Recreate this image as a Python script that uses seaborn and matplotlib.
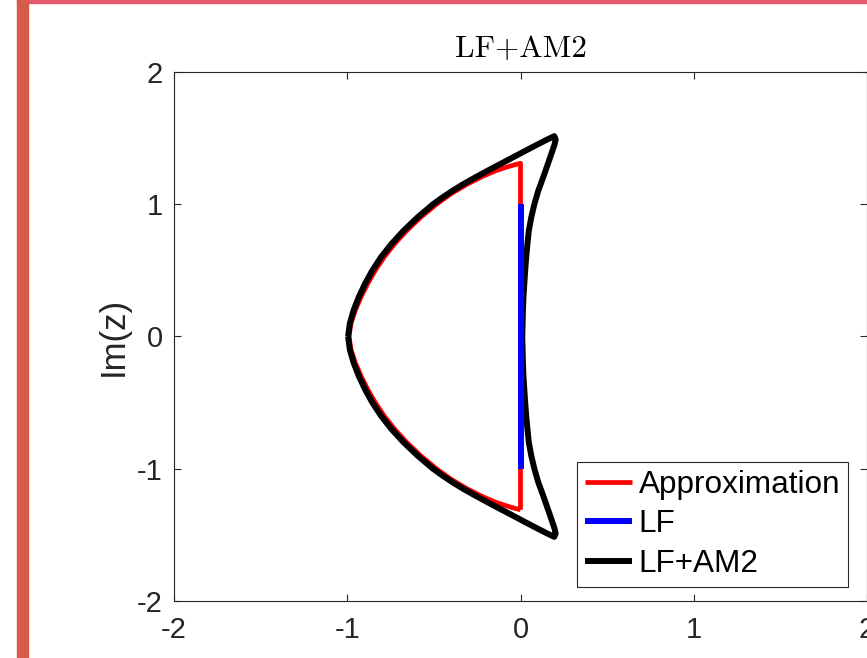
import numpy as np
import pandas as pd
import seaborn as sns
import matplotlib.pyplot as plt
from matplotlib.patches import Rectangle

# Curvas (Re(z), Im(z))
approx_x = [0.0, 0.0, -0.03, -0.07, -0.14, -0.22, -0.31, -0.40, -0.485, -0.577, -0.657,
            -0.727, -0.787, -0.838, -0.882, -0.92, -0.953, -0.978, -0.99,
            -0.978, -0.953, -0.92, -0.882, -0.838, -0.787, -0.727, -0.657, -0.577,
            -0.485, -0.40, -0.31, -0.22, -0.14, -0.07, -0.03, 0.0]
approx_y = [-1.31, 1.31, 1.30, 1.285, 1.255, 1.21, 1.15, 1.08, 1.00, 0.90, 0.80,
            0.70, 0.60, 0.50, 0.40, 0.30, 0.20, 0.10, 0.0,
            -0.10, -0.20, -0.30, -0.40, -0.50, -0.60, -0.70, -0.80, -0.90,
            -1.00, -1.08, -1.15, -1.21, -1.255, -1.285, -1.30, -1.31]

lf_x = [0.0, 0.0]
lf_y = [-1.0, 1.0]

lfam2_x = [-0.995, -0.985, -0.963, -0.933, -0.897, -0.855, -0.805, -0.745, -0.675, -0.595,
           -0.505, -0.452, -0.395, -0.333, -0.265, -0.195, -0.123, -0.05, 0.022, 0.095,
           0.155, 0.195,
           0.203, 0.196, 0.17, 0.13, 0.102, 0.08, 0.062, 0.048, 0.04, 0.033, 0.027,
           0.022, 0.017, 0.014, 0.012, 0.01,
           0.012, 0.014, 0.017, 0.022, 0.027, 0.033, 0.04, 0.048, 0.062, 0.08, 0.102,
           0.13, 0.17, 0.196, 0.203,
           0.195, 0.155, 0.095, 0.022, -0.05, -0.123, -0.195, -0.265, -0.333, -0.395,
           -0.452, -0.505, -0.595, -0.675, -0.745, -0.805, -0.855, -0.897, -0.933,
           -0.963, -0.985, -0.995]
lfam2_y = [0.0, 0.10, 0.20, 0.30, 0.40, 0.50, 0.60, 0.70, 0.80, 0.90,
           1.00, 1.05, 1.10, 1.15, 1.20, 1.25, 1.30, 1.35, 1.40, 1.45,
           1.49, 1.515,
           1.49, 1.45, 1.35, 1.20, 1.10, 1.00, 0.90, 0.80, 0.70, 0.60, 0.50,
           0.40, 0.30, 0.20, 0.10, 0.0,
           -0.10, -0.20, -0.30, -0.40, -0.50, -0.60, -0.70, -0.80, -0.90, -1.00, -1.10,
           -1.20, -1.35, -1.45, -1.49,
           -1.515, -1.49, -1.45, -1.40, -1.35, -1.30, -1.25, -1.20, -1.15, -1.10,
           -1.05, -1.00, -0.90, -0.80, -0.70, -0.60, -0.50, -0.40, -0.30,
           -0.20, -0.10, 0.0]

ticks = [-2, -1, 0, 1, 2]
tick_labels = ['-2', '-1', '0', '1', '2']
labels = ['Approximation', 'LF', 'LF+AM2']

sns.set_theme(style='white')
plt.rcParams['font.family'] = ['Liberation Sans', 'DejaVu Sans']
plt.rcParams['axes.unicode_minus'] = False

fig = plt.figure(figsize=(8.67, 6.58), dpi=100)
fig.patch.set_facecolor('white')

# bordes de la diapositiva
fig.patches.append(Rectangle((17 / 867, 1 - 3.3 / 658), 850 / 867, 3.3 / 658,
                             transform=fig.transFigure, color='#e6596a', zorder=0))
fig.patches.append(Rectangle((17 / 867, 0), 11 / 867, 1,
                             transform=fig.transFigure, color='#d65b4b', zorder=0))

ax = fig.add_axes([174 / 867, 1 - 601 / 658, 693 / 867, 529 / 658])

df_approx = pd.DataFrame({'x': approx_x, 'y': approx_y})
df_lf = pd.DataFrame({'x': lf_x, 'y': lf_y})
df_lfam2 = pd.DataFrame({'x': lfam2_x, 'y': lfam2_y})

sns.lineplot(data=df_approx, x='x', y='y', sort=False, estimator=None, color='#ff0000',
             linewidth=3.4, label=labels[0], ax=ax, zorder=2, legend=False)
sns.lineplot(data=df_lf, x='x', y='y', sort=False, estimator=None, color='#0000ff',
             linewidth=4.3, label=labels[1], ax=ax, zorder=4, legend=False)
sns.lineplot(data=df_lfam2, x='x', y='y', sort=False, estimator=None, color='#000000',
             linewidth=4.3, label=labels[2], ax=ax, zorder=3, legend=False)
for ln in ax.lines:
    ln.set_solid_joinstyle('round')
    ln.set_solid_capstyle('butt')

ax.set_xlim(-2, 2)
ax.set_ylim(-2, 2)
ax.set_xticks(ticks)
ax.set_xticklabels(tick_labels)
ax.set_yticks(ticks)
ax.set_yticklabels(tick_labels)
ax.tick_params(direction='in', length=5, width=0.8, colors='#262626', labelsize=21,
               top=True, right=True, bottom=True, left=True)
ax.tick_params(axis='x', pad=11)
ax.tick_params(axis='y', pad=8)
for sp in ax.spines.values():
    sp.set_color('#262626')
    sp.set_linewidth(0.8)

ax.set_xlabel('')
ax.set_ylabel('Im(z)', fontsize=25, color='#262626')
ax.yaxis.set_label_coords(-0.0635, 0.5)
ax.set_title('LF+AM2', fontfamily='cmr10', fontsize=22.5, pad=10.8, color='#000000')

leg = ax.legend(handles=ax.lines[:3], labels=labels, loc='upper left',
                bbox_to_anchor=(0.581, 0.263), borderaxespad=0, fontsize=22.7,
                handlelength=1.52, handletextpad=0.2, labelspacing=0.30, borderpad=0.25,
                fancybox=False, framealpha=1, edgecolor='#262626')
leg.get_frame().set_linewidth(0.8)
for t in leg.get_texts():
    t.set_color('#000000')

fig.savefig('out.png', dpi=100)
